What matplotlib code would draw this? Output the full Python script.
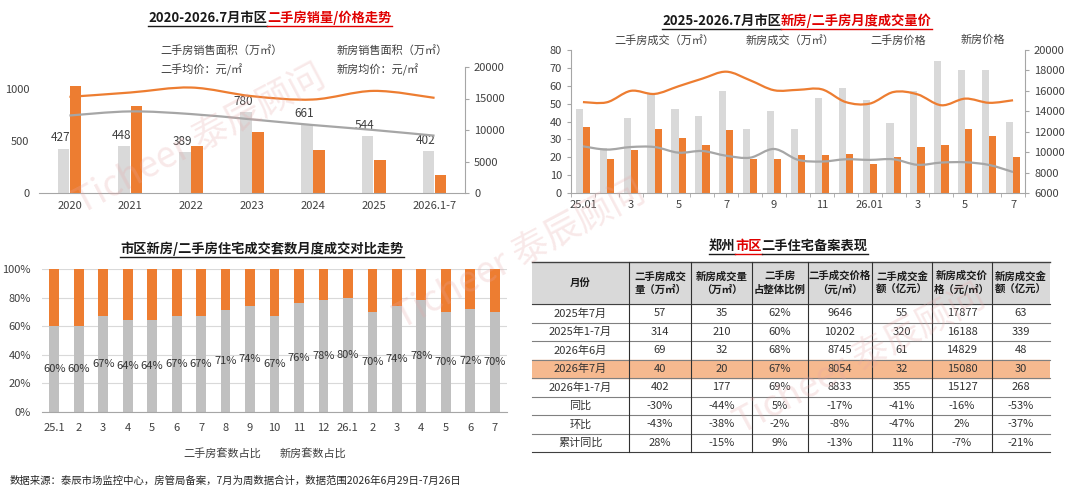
import numpy as np
import matplotlib
matplotlib.use('Agg')
import matplotlib.pyplot as plt
from matplotlib.path import Path
from matplotlib.patches import PathPatch, Rectangle
from matplotlib.lines import Line2D

plt.rcParams['font.family'] = ['Noto Sans CJK SC', 'DejaVu Sans']
plt.rcParams['axes.unicode_minus'] = False

# ---- data: yearly ----
years = ['2020', '2021', '2022', '2023', '2024', '2025', '2026.1-7']
resale_area = [427, 448, 389, 780, 661, 544, 402]
new_area = [1025, 835, 452, 590, 410, 315, 177]
resale_price = [12300, 12950, 12530, 11680, 10790, 10000, 9100]
new_price = [15260, 15950, 16740, 15370, 14840, 16210, 15100]

# ---- data: monthly ----
months = ['25.01', '2', '3', '4', '5', '6', '7', '8', '9', '10', '11', '12',
          '26.01', '2', '3', '4', '5', '6', '7']
resale_m = [47, 25, 42, 56, 47, 43, 57, 36, 46, 36, 53, 59, 52, 39, 57, 74, 69, 69, 40]
new_m = [37, 19, 24, 36, 31, 27, 35, 19, 19, 21, 21, 22, 16, 20, 26, 27, 36, 32, 20]
new_price_m = [14900, 14880, 16000, 15700, 16450, 17200, 17877, 17030, 16060, 16100,
               16150, 14900, 14750, 15890, 15660, 14590, 15240, 14829, 15080]
resale_price_m = [10570, 10250, 10500, 10500, 9950, 10110, 9646, 9460, 10310, 9250,
                  9080, 9300, 9240, 9300, 8760, 8980, 9010, 8745, 8054]

# ---- data: share of units ----
share_labels = ['25.1', '2', '3', '4', '5', '6', '7', '8', '9', '10', '11', '12',
                '26.1', '2', '3', '4', '5', '6', '7']
resale_share = [60, 60, 67, 64, 64, 67, 67, 71, 74, 67, 76, 78, 80, 70, 74, 78, 70, 72, 70]

# ---- data: table ----
table_header = ['月份', '二手房成交\n量（万㎡）', '新房成交量\n（万㎡）', '二手房\n占整体比例',
                '二手成交价格\n（元/㎡）', '二手成交金\n额（亿元）', '新房成交价\n格（元/㎡）',
                '新房成交金\n额（亿元）']
table_rows = [
    ['2025年7月', '57', '35', '62%', '9646', '55', '17877', '63'],
    ['2025年1-7月', '314', '210', '60%', '10202', '320', '16188', '339'],
    ['2026年6月', '69', '32', '68%', '8745', '61', '14829', '48'],
    ['2026年7月', '40', '20', '67%', '8054', '32', '15080', '30'],
    ['2026年1-7月', '402', '177', '69%', '8833', '355', '15127', '268'],
    ['同比', '-30%', '-44%', '5%', '-17%', '-41%', '-16%', '-53%'],
    ['环比', '-43%', '-38%', '-2%', '-8%', '-47%', '2%', '-37%'],
    ['累计同比', '28%', '-15%', '9%', '-13%', '11%', '-7%', '-21%'],
]
col_widths = [97, 62, 61, 56, 64, 60, 60, 58]

ORANGE = '#ed7d31'
GRAY_BAR = '#d9d9d9'
GRAY_LINE = '#a6a6a6'
RED = '#e00000'

W, H = 1080, 493
fig = plt.figure(figsize=(10.8, 4.93), dpi=100)


def fx(px):
    return px / W


def fy(py):
    return 1 - py / H


def axes_px(x0, y0, x1, y1):
    return fig.add_axes([fx(x0), fy(y1), (x1 - x0) / W, (y1 - y0) / H])


def smooth(ax, x, y, **kw):
    # excel style smoothed line (catmull-rom -> bezier)
    x = list(map(float, x)); y = list(map(float, y))
    verts = [(x[0], y[0])]
    codes = [Path.MOVETO]
    n = len(x)
    t = 1 / 6
    for i in range(n - 1):
        a = i - 1 if i > 0 else i
        d = i + 2 if i + 2 < n else i + 1
        c1 = (x[i] + (x[i + 1] - x[a]) * t, y[i] + (y[i + 1] - y[a]) * t)
        c2 = (x[i + 1] - (x[d] - x[i]) * t, y[i + 1] - (y[d] - y[i]) * t)
        verts += [c1, c2, (x[i + 1], y[i + 1])]
        codes += [Path.CURVE4] * 3
    ax.add_patch(PathPatch(Path(verts, codes), fill=False, **kw))


def title(parts, cx, py, size=9.5):
    renderer = fig.canvas.get_renderer()
    texts = [fig.text(0, fy(py), s, color=c, fontsize=size, fontweight='bold',
                      va='center', ha='left') for s, c in parts]
    widths = [t.get_window_extent(renderer).width for t in texts]
    x = cx - sum(widths) / 2
    for t, w, (_, c) in zip(texts, widths, parts):
        t.set_x(fx(x))
        fig.add_artist(Line2D([fx(x), fx(x + w)], [fy(py + 8), fy(py + 8)], color=c, lw=1.0))
        x += w


def legend_text(items, py):
    for s, px in items:
        fig.text(fx(px), fy(py), s, fontsize=8, va='center', ha='left', color='#404040')


def style_spine(ax):
    for s in ax.spines.values():
        s.set_color('#a6a6a6')
        s.set_linewidth(0.8)
    ax.tick_params(colors='#404040', labelsize=8, length=3, width=0.8)
    ax.tick_params(axis='both', color='#a6a6a6')


# ================= top left =================
ax1 = axes_px(39, 67, 465, 193)
x = np.arange(len(years))
ax1.bar(x - 0.1, resale_area, width=0.19, color=GRAY_BAR, zorder=2)
ax1.bar(x + 0.1, new_area, width=0.19, color=ORANGE, zorder=2)
for xi, v in zip(x, resale_area):
    ax1.text(xi - 0.15, v + 40, str(v), ha='center', va='bottom', fontsize=8.5, color='#404040')
ax1.set_xlim(-0.5, len(years) - 0.5)
ax1.set_ylim(0, 1210)
ax1.set_yticks([0, 500, 1000])
ax1.set_xticks(x)
ax1.set_xticklabels(years)
style_spine(ax1)
for s in ['top', 'right', 'left']:
    ax1.spines[s].set_visible(False)
ax1.tick_params(axis='y', length=0, pad=7)
ax1.tick_params(axis='x', length=0, pad=6)
ax1r = ax1.twinx()
smooth(ax1r, x, new_price, color=ORANGE, lw=1.6, zorder=3)
smooth(ax1r, x, resale_price, color=GRAY_LINE, lw=1.6, zorder=3)
ax1r.set_ylim(0, 20000)
ax1r.set_yticks(range(0, 20001, 5000))
style_spine(ax1r)
for s in ['top', 'left', 'bottom']:
    ax1r.spines[s].set_visible(False)
ax1.set_facecolor('none')
ax1r.set_facecolor('none')

legend_text([('二手房销售面积（万㎡）', 160), ('新房销售面积（万㎡）', 337)], 50)
legend_text([('二手均价：元/㎡', 160), ('新房均价：元/㎡', 337)], 70)
title([('2020-2026.7月市区', '#1a1a1a'), ('二手房销量/价格走势', RED)], 270, 18)

# ================= top right =================
ax2 = axes_px(571, 50, 1025, 193)
xm = np.arange(len(months))
ax2.bar(xm - 0.15, resale_m, width=0.3, color=GRAY_BAR, zorder=2)
ax2.bar(xm + 0.15, new_m, width=0.3, color=ORANGE, zorder=2)
ax2.set_xlim(-0.5, len(months) - 0.5)
ax2.set_ylim(0, 80)
ax2.set_yticks(range(0, 81, 10))
ax2.set_xticks(xm[::2])
ax2.set_xticklabels(months[::2])
ax2.set_xticks(np.arange(-0.5, len(months), 1), minor=True)
style_spine(ax2)
ax2.spines['top'].set_visible(False)
ax2.spines['right'].set_visible(False)
ax2.tick_params(axis='x', which='major', length=0, pad=5)
ax2.tick_params(axis='x', which='minor', length=3, color='#a6a6a6')
ax2r = ax2.twinx()
smooth(ax2r, xm, new_price_m, color=ORANGE, lw=1.6, zorder=3)
smooth(ax2r, xm, resale_price_m, color=GRAY_LINE, lw=1.6, zorder=3)
ax2r.set_ylim(6000, 20000)
ax2r.set_yticks(range(6000, 20001, 2000))
style_spine(ax2r)
for s in ['top', 'left', 'bottom']:
    ax2r.spines[s].set_visible(False)

legend_text([('二手房成交（万㎡）', 614), ('新房成交（万㎡）', 746),
             ('二手房价格', 870), ('新房价格', 961)], 40)
title([('2025-2026.7月市区', '#1a1a1a'), ('新房/二手房月度成交量价', RED)], 797, 21)

# ================= bottom left =================
ax3 = axes_px(42, 269, 507, 412)
xs = np.arange(len(share_labels))
rs = np.array(resale_share) / 100
ax3.bar(xs, rs, width=0.4, color='#c0c0c0', zorder=2)
ax3.bar(xs, 1 - rs, bottom=rs, width=0.4, color=ORANGE, zorder=2)
for xi, v in zip(xs, resale_share):
    ax3.text(xi, v / 200, f'{v}%', ha='center', va='center', fontsize=8, color='#333333', zorder=3)
ax3.set_xlim(-0.5, len(share_labels) - 0.5)
ax3.set_ylim(0, 1)
ax3.set_yticks(np.linspace(0, 1, 6))
ax3.set_yticklabels([f'{int(v)}%' for v in np.linspace(0, 100, 6)])
ax3.set_xticks(xs)
ax3.set_xticklabels(share_labels)
ax3.grid(axis='y', color='#d9d9d9', lw=0.8, zorder=0)
style_spine(ax3)
for s in ['top', 'right', 'left']:
    ax3.spines[s].set_visible(False)
ax3.tick_params(axis='both', length=0)
ax3.tick_params(axis='x', pad=8)
ax3.tick_params(axis='y', pad=8)

legend_text([('二手房套数占比', 183), ('新房套数占比', 280)], 453)
title([('市区新房/二手房住宅成交套数月度成交对比走势', '#1a1a1a')], 262, 249)

# ================= table =================
tx0, ty0, tx1, ty1 = 532, 262, 1050, 452
axt = axes_px(tx0, ty0, tx1, ty1)
axt.set_xlim(0, sum(col_widths))
head_h = 42
row_h = (ty1 - ty0 - head_h) / len(table_rows)
axt.set_ylim(ty1 - ty0, 0)
axt.axis('off')
edges = np.concatenate([[0], np.cumsum(col_widths)])
axt.add_patch(Rectangle((0, 0), edges[-1], head_h, color='#d9d9d9', zorder=0))
hi = 3
axt.add_patch(Rectangle((0, head_h + hi * row_h), edges[-1], row_h, color='#f6b98f', zorder=0))
for j, h in enumerate(table_header):
    axt.text((edges[j] + edges[j + 1]) / 2, head_h / 2, h, ha='center', va='center',
             fontsize=7.5, fontweight='bold', color='#1a1a1a', linespacing=1.3)
for i, row in enumerate(table_rows):
    yc = head_h + (i + 0.5) * row_h
    for j, v in enumerate(row):
        axt.text((edges[j] + edges[j + 1]) / 2, yc, v, ha='center', va='center',
                 fontsize=8, color='#333333')
for i in range(len(table_rows) + 1):
    yl = head_h + i * row_h
    axt.plot([0, edges[-1]], [yl, yl], color='#808080' if 0 < i < len(table_rows) else '#404040',
             lw=0.8, clip_on=False)
axt.plot([0, edges[-1]], [0, 0], color='#404040', lw=1.0, clip_on=False)
for e in edges[1:-1]:
    axt.plot([e, e], [0, ty1 - ty0], color='#303030', lw=0.8, clip_on=False)

title([('郑州', '#1a1a1a'), ('市区', RED), ('二手住宅备案表现', '#1a1a1a')], 788, 246)

# footer
fig.text(fx(10), fy(481), '数据来源：泰辰市场监控中心，房管局备案，7月为周数据合计，数据范围2026年6月29日-7月26日',
         fontsize=7.5, va='center', ha='left', color='#262626')

# watermarks
for cx, cy in [(200, 140), (520, 255), (860, 360)]:
    fig.text(fx(cx), fy(cy), 'Ticheer 泰辰顾问', fontsize=26, color='#e6a6a6', alpha=0.25,
             rotation=28, ha='center', va='center', fontweight='light', zorder=10)

fig.savefig('out.png', dpi=100)
